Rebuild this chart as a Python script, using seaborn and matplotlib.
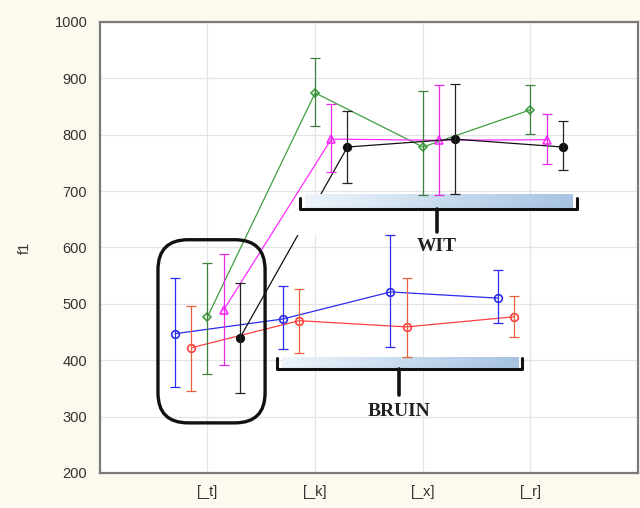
import numpy as np
import pandas as pd
import matplotlib
matplotlib.use("Agg")
import matplotlib.pyplot as plt
import seaborn as sns
from matplotlib.patches import FancyBboxPatch, Rectangle

categories = ["[_t]", "[_k]", "[_x]", "[_r]"]

blue_mean = [447, 473, 521, 510]
blue_lo = [352, 420, 423, 466]
blue_hi = [546, 532, 622, 560]

red_mean = [422, 470, 459, 477]
red_lo = [345, 413, 405, 441]
red_hi = [496, 526, 545, 514]

green_mean = [477, 874, 778, 844]
green_lo = [376, 815, 693, 801]
green_hi = [572, 936, 877, 888]

magenta_mean = [489, 792, 790, 791]
magenta_lo = [391, 734, 693, 748]
magenta_hi = [588, 854, 888, 837]

black_mean = [439, 778, 792, 778]
black_lo = [342, 714, 695, 737]
black_hi = [537, 842, 890, 824]

y_ticks = [200, 300, 400, 500, 600, 700, 800, 900, 1000]
y_label = "f1"
group_labels = ["WIT", "BRUIN"]

series = [
    # name, mean, lo, hi, line color, err color, marker, facecolor
    ("blue", blue_mean, blue_lo, blue_hi, "#2b2bf0", "#2b2bf0", "o", "none"),
    ("red", red_mean, red_lo, red_hi, "#ff3f3f", "#e8603c", "o", "none"),
    ("green", green_mean, green_lo, green_hi, "#3f9f3f", "#3f7f3f", "D", "none"),
    ("magenta", magenta_mean, magenta_lo, magenta_hi, "#ff2cff", "#e62ce6", "^", "none"),
    ("black", black_mean, black_lo, black_hi, "#111111", "#222222", "o", "#111111"),
]

sns.set_style("white")
plt.rcParams["font.family"] = ["Liberation Sans", "DejaVu Sans"]

fig = plt.figure(figsize=(6.4, 5.08), dpi=100, facecolor="#fcf9ee")
ax = fig.add_axes([0.156, 0.069, 0.841, 0.888])
ax.set_facecolor("white")

n = len(series)
offsets = np.linspace(-0.3, 0.3, n)
base = np.arange(len(categories))

for i, (name, mean, lo, hi, lc, ec, mk, mfc) in enumerate(series):
    mean = np.array(mean, dtype=float)
    lo = np.array(lo, dtype=float)
    hi = np.array(hi, dtype=float)
    xpos = base + offsets[i]
    df = pd.DataFrame({"x": xpos, "y": mean})
    sns.lineplot(data=df, x="x", y="y", ax=ax, color=lc, lw=0.9,
                 marker=mk, markersize=5.5 if mk != "D" else 4.5,
                 markerfacecolor=mfc, markeredgecolor=lc, markeredgewidth=1.2,
                 errorbar=None, zorder=3)
    ax.errorbar(xpos, mean, yerr=[mean - lo, hi - mean], fmt="none",
                ecolor=ec, elinewidth=0.9, capsize=3.5, capthick=0.9, zorder=3.4)

ax.set_xlim(-1, 4)
ax.set_ylim(200, 1000)
ax.set_xticks(base)
ax.set_xticklabels(categories)
ax.set_yticks(y_ticks)
ax.set_xlabel("")
ax.set_ylabel(y_label, fontsize=10.5, color="#333333", labelpad=16)
ax.grid(True, color="#e4e4e4", lw=0.9)
ax.tick_params(direction="in", length=3, color="#a0a0a0", labelsize=10.5,
               labelcolor="#333333", pad=9)
for s in ax.spines.values():
    s.set_color("#7a7a7a")
    s.set_linewidth(1.6)

# white patch (annotation background in the original)
ax.add_patch(Rectangle((0.81, 622), 0.28, 45, facecolor="white",
                       edgecolor="none", zorder=3.3))

# gradient bands
grad = np.linspace(0, 1, 256).reshape(1, -1)
cmap = matplotlib.colors.LinearSegmentedColormap.from_list(
    "g", ["#eef4fa", "#c9dcef", "#a7c3e2"])
ax.imshow(grad, extent=[0.905, 3.387, 668, 694], aspect="auto", cmap=cmap,
          zorder=3.2, interpolation="bicubic")
ax.imshow(grad, extent=[0.69, 2.885, 384, 405], aspect="auto", cmap=cmap,
          zorder=3.2, interpolation="bicubic")

# brackets
def bracket(x0, x1, xc, yh, ytop, ystem):
    ax.plot([x0, x0, x1, x1], [ytop, yh, yh, ytop], color="#111111", lw=2.2,
            solid_joinstyle="round", solid_capstyle="round", zorder=6)
    ax.plot([xc, xc], [yh, ystem], color="#111111", lw=2.6, zorder=6)

bracket(0.86, 3.43, 2.13, 668, 688, 627)
bracket(0.65, 2.92, 1.78, 384, 404, 338)
ax.text(2.13, 601, group_labels[0], ha="center", va="center",
        fontsize=14, fontweight="bold", family=["Liberation Serif", "DejaVu Serif"],
        color="#222222", zorder=7)
ax.text(1.78, 309, group_labels[1], ha="center", va="center",
        fontsize=14, fontweight="bold", family=["Liberation Serif", "DejaVu Serif"],
        color="#222222", zorder=7)

# rounded box around first group
W, H = 538.0, 451.0
box = FancyBboxPatch((0.108, 0.111), 0.199, 0.406,
                     boxstyle="round,pad=0,rounding_size=0.056",
                     mutation_aspect=W / H, transform=ax.transAxes,
                     fill=False, lw=2.4, ec="#111111", zorder=6)
ax.add_patch(box)

fig.savefig("out.png", dpi=100, facecolor=fig.get_facecolor())
